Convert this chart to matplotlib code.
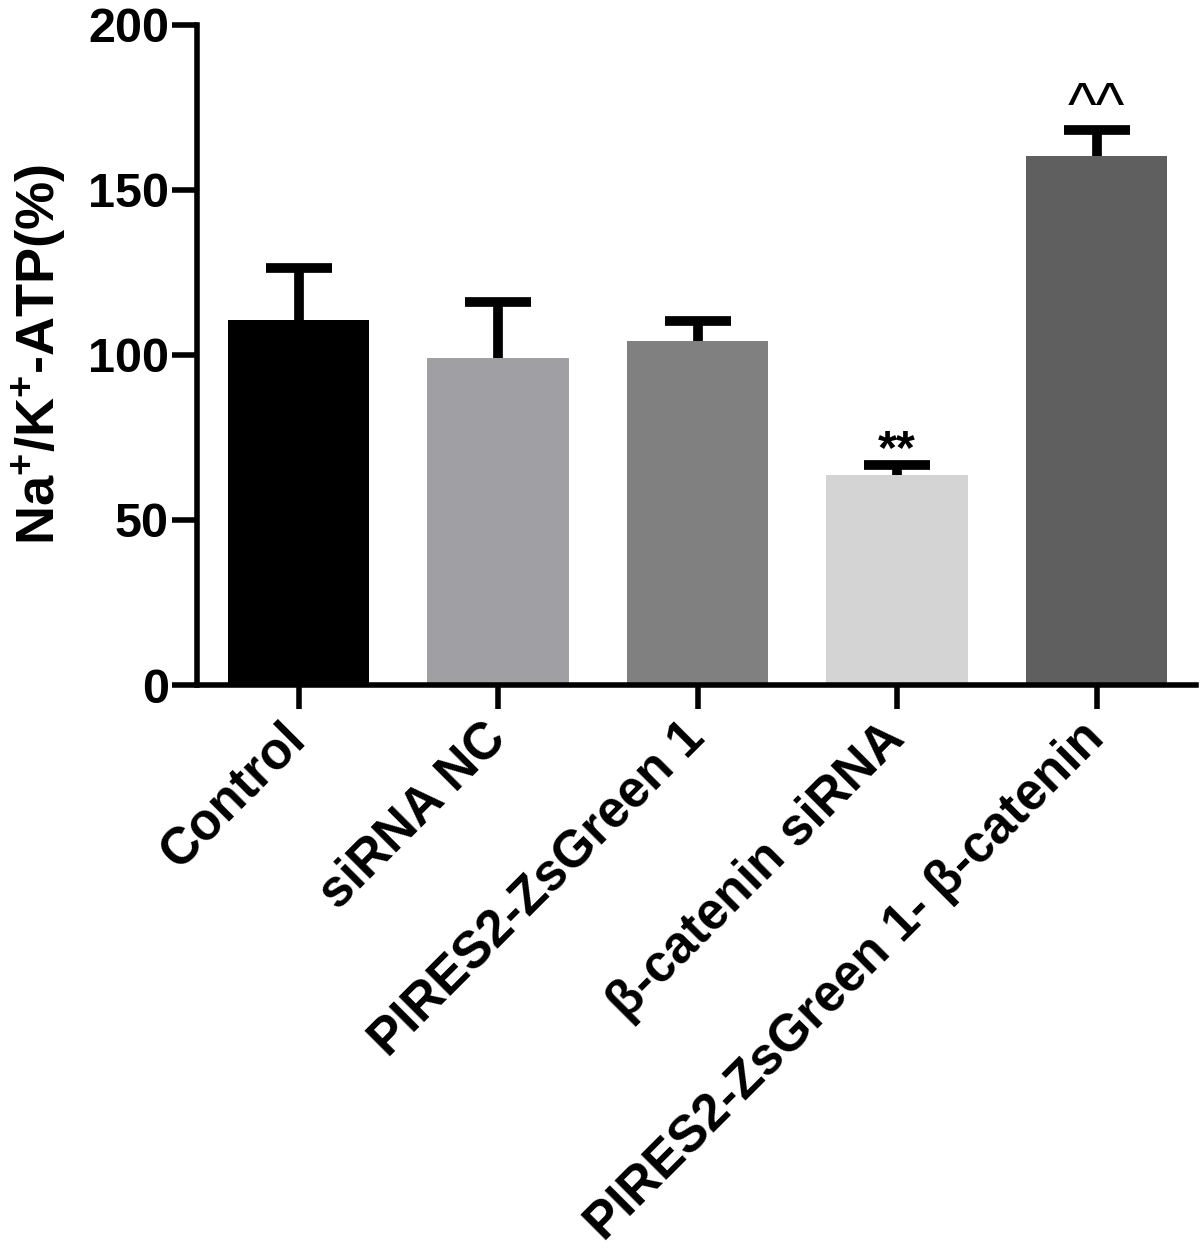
import matplotlib
matplotlib.use('Agg')
import matplotlib.pyplot as plt
import numpy as np

groups = ['Control', 'siRNA NC', 'PIRES2-ZsGreen 1', 'β-catenin siRNA', 'PIRES2-ZsGreen 1- β-catenin']
values = [110.7, 99.0, 104.3, 63.5, 160.3]
errors = [15.5, 17.0, 6.0, 3.2, 7.8]
marks = ['', '', '', '**', '^^']
colors = ['#000000', '#a0a0a4', '#808080', '#d4d4d4', '#5f5f5f']

plt.rcParams['font.family'] = ['Liberation Sans', 'DejaVu Sans']
plt.rcParams['font.weight'] = 'bold'
plt.rcParams['mathtext.fontset'] = 'custom'
plt.rcParams['mathtext.rm'] = 'Liberation Sans:bold'
plt.rcParams['mathtext.bf'] = 'Liberation Sans:bold'
plt.rcParams['mathtext.default'] = 'bf'

fig = plt.figure(figsize=(12, 12.53), dpi=100)
ax = fig.add_axes([0.164, 0.4533, 0.833, 0.527])

x = np.arange(len(groups))
# error bars behind the bars, so only the upper half shows
ax.errorbar(x, values, yerr=errors, fmt='none', ecolor='black',
            elinewidth=7, capsize=24, capthick=7, zorder=1)
ax.bar(x, values, width=0.71, color=colors, zorder=2)
for i in range(len(x)):
    if marks[i] == '**':
        ax.text(x[i], values[i] + errors[i] + 0.4, marks[i], ha='center', va='baseline',
                fontsize=35, fontweight='bold')
    elif marks[i]:
        ax.text(x[i], values[i] + errors[i] + 1.6, marks[i], ha='center', va='baseline',
                fontsize=44, fontweight='normal')

ax.set_xlim(-0.51, 4.5)
ax.set_ylim(0, 200)
ax.set_yticks([0, 50, 100, 150, 200])
ax.set_xticks(x)
ax.set_xticklabels(groups, rotation=45, ha='right', va='center', rotation_mode='anchor',
                   fontsize=37)
ax.tick_params(axis='y', labelsize=35, width=4, length=18, pad=2)
ax.tick_params(axis='x', width=4, length=17, pad=16)
for s in ['top', 'right']:
    ax.spines[s].set_visible(False)
for s in ['left', 'bottom']:
    ax.spines[s].set_linewidth(4)
ax.set_ylabel(r'$\mathbf{Na^{+}/K^{+}}$-ATP(%)', fontsize=39, fontweight='bold', labelpad=14)

fig.savefig('out.png', dpi=100)
